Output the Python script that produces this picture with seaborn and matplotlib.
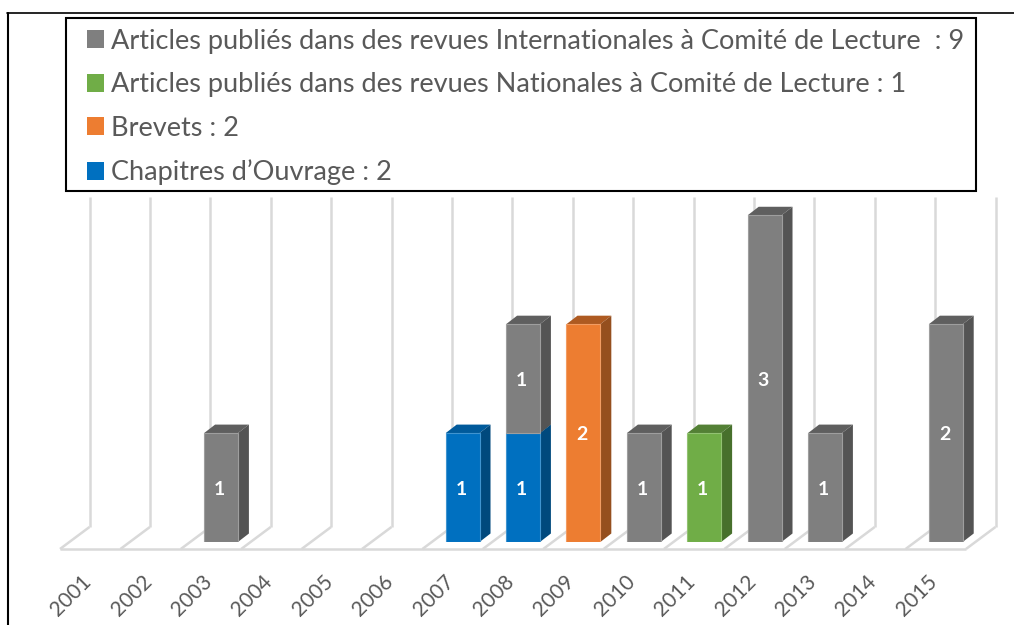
import numpy as np
import pandas as pd
import matplotlib
matplotlib.use("Agg")
import matplotlib.pyplot as plt
from matplotlib.patches import Patch, Polygon
from matplotlib.lines import Line2D
from matplotlib.patches import Rectangle
from matplotlib.transforms import Affine2D
import seaborn as sns

years = [str(y) for y in range(2001, 2016)]
chapitres = [0, 0, 0, 0, 0, 0, 1, 1, 0, 0, 0, 0, 0, 0, 0]
brevets = [0, 0, 0, 0, 0, 0, 0, 0, 2, 0, 0, 0, 0, 0, 0]
nationales = [0, 0, 0, 0, 0, 0, 0, 0, 0, 0, 1, 0, 0, 0, 0]
internationales = [0, 0, 1, 0, 0, 0, 0, 1, 0, 1, 0, 3, 1, 0, 2]

legend_labels = [
    "Articles publiés dans des revues Internationales à Comité de Lecture  : 9",
    "Articles publiés dans des revues Nationales à Comité de Lecture : 1",
    "Brevets : 2",
    "Chapitres d’Ouvrage : 2",
]
# stacking order, bottom to top: values, front, side, top, edge
series = [
    (chapitres, "#0070C0", "#00497D", "#005A9B", "#3F94D0"),
    (brevets, "#ED7D31", "#954F1E", "#AE5A21", "#F29C62"),
    (nationales, "#70AD47", "#47702C", "#538035", "#92C272"),
    (internationales, "#7F7F7F", "#545454", "#5F5F5F", "#9E9E9E"),
]

W, H = 1014, 625
sns.set_theme(style="white")
plt.rcParams["font.family"] = ["Lato", "DejaVu Sans"]
fig = plt.figure(figsize=(W / 100, H / 100), dpi=100)
fig.patch.set_facecolor("white")

# pixel extents of the bar plane
L, R, B, T = 70.0, 976.0, 542.0, 212.0
ax = fig.add_axes([L / W, 1 - B / H, (R - L) / W, (B - T) / H])
ax.patch.set_alpha(0)

bottom = np.zeros(len(years))
for vals, front, side, top, edge in series:
    sns.barplot(x=years, y=vals, order=years, color=front, saturation=1,
                width=0.56, bottom=bottom, errorbar=None, linewidth=0,
                zorder=4, ax=ax)
    bottom = bottom + np.array(vals)

ax.set_xlim(-0.5, len(years) - 0.5)
ax.set_ylim(0, 3.03)
for s in ax.spines.values():
    s.set_visible(False)
ax.set_yticks([])
ax.set_xlabel("")
ax.set_ylabel("")
ax.tick_params(axis="x", length=0, pad=21.5)
ax.set_xticks(range(len(years)))
ax.set_xticklabels(years, rotation=45, ha="center", va="top", fontsize=15, color="#595959")
label_shift = Affine2D().translate(-29, 0)
for t in ax.get_xticklabels():
    t.set_transform(t.get_transform() + label_shift)

# floor and walls of the 3D frame, from the category boundaries
grid = "#D9D9D9"
px = ax.transData
front_off = np.array([-10.0, -7.0])
back_off = np.array([19.5, 15.0])
bounds = np.arange(len(years) + 1) - 0.5
def P(x, y, off=(0, 0)):
    return px.transform((x, y)) + np.asarray(off)
fig_lines = []
a, b = P(bounds[0], 0, front_off), P(bounds[-1], 0, front_off)
fig_lines.append((a, b))
for x in bounds:
    f = P(x, 0, front_off)
    k = P(x, 0, back_off)
    t = P(x, ax.get_ylim()[1], back_off)
    fig_lines.append((f, k))
    fig_lines.append((k, t))
for a, b in fig_lines:
    ax.plot([a[0], b[0]], [a[1], b[1]], color=grid, lw=1.8, transform=None,
            zorder=1, solid_capstyle="butt", clip_on=False)

# 3D faces derived from the drawn bars
depth = np.array([11.0, 8.5])
colours = [(s[2], s[3], s[4]) for s in series]
for cont, (side, top, edge), (vals, *_) in zip(ax.containers, colours, series):
    for p, v in zip(cont.patches, vals):
        if v == 0:
            p.set_visible(False)
            continue
        p.set_edgecolor(edge)
        p.set_linewidth(0.8)
        x0, y0, w, h = p.get_x(), p.get_y(), p.get_width(), p.get_height()
        a = P(x0 + w, y0)
        c = P(x0 + w, y0 + h)
        d = P(x0, y0 + h)
        ax.add_patch(Polygon([a, a + depth, c + depth, c], closed=True, facecolor=side,
                             edgecolor="none", transform=None, zorder=3.5, clip_on=False))
        ax.add_patch(Polygon([d, c, c + depth, d + depth], closed=True, facecolor=top,
                             edgecolor="none", transform=None, zorder=3, clip_on=False))
    anns = ax.bar_label(cont, labels=[str(v) if v else "" for v in vals], label_type="center",
                        color="white", fontweight="bold", fontsize=14, zorder=6)
    for ann in anns:
        ann.xyann = (-1.0, -1.2)

# outer border (top and left only) and legend box
fig.add_artist(Line2D([7.5 / W, 7.5 / W], [0, 1 - 13 / H], color="black", lw=1.5,
                      transform=fig.transFigure))
fig.add_artist(Line2D([7 / W, 1], [1 - 13 / H, 1 - 13 / H], color="black", lw=1.2,
                      transform=fig.transFigure))
fig.add_artist(Rectangle((65.5 / W, 1 - 191 / H), 910 / W, 173.5 / H,
                         transform=fig.transFigure, facecolor="none",
                         edgecolor="black", linewidth=1.5, clip_on=False))

handles = [Patch(facecolor=series[i][1], edgecolor="none") for i in (3, 2, 1, 0)]
leg = fig.legend(handles, legend_labels, loc="upper left",
                 bbox_to_anchor=(87 / W, 1 - 28.5 / H), bbox_transform=fig.transFigure,
                 frameon=False, fontsize=19.5, labelcolor="#595959", borderpad=0, borderaxespad=0,
                 handlelength=0.63, handleheight=0.63, handletextpad=0.25,
                 labelspacing=0.69)

fig.savefig("out.png", dpi=100, facecolor="white")
